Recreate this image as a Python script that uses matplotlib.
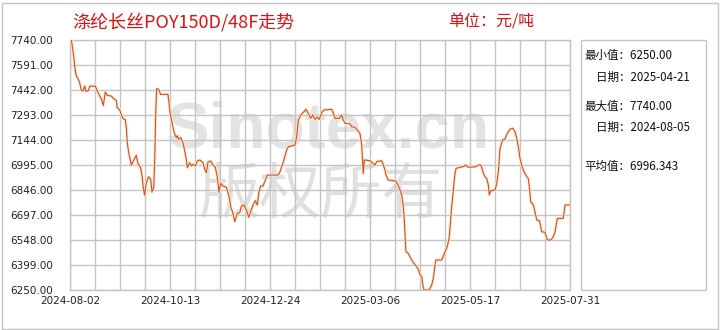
import numpy as np
import pandas as pd
import matplotlib
matplotlib.use("Agg")
import matplotlib.pyplot as plt
import matplotlib.patheffects as pe
from matplotlib.patches import Rectangle

plt.rcParams['font.family'] = ['Noto Sans CJK SC', 'DejaVu Sans']

start = pd.Timestamp('2024-08-02')
end = pd.Timestamp('2025-07-31')

# day offsets from 2024-08-02 and price (yuan/ton)
days = [1.0, 2.7, 3.4, 4.1, 4.9, 5.8, 7.0, 8.2, 9.4, 10.7, 11.4, 13.1, 14.5, 18.4, 19.8,
        21.6, 22.7, 24.2, 25.6, 27.1, 30.0, 31.7, 33.6, 34.3, 36.1, 37.2, 38.5, 40.1,
        40.9, 41.6, 42.6, 43.8, 44.5, 46.0, 48.1, 49.4, 51.3, 52.3, 53.2, 54.2, 55.4,
        57.1, 58.6, 59.5, 60.8, 61.5, 62.2, 62.9, 64.4, 65.8, 71.1, 71.9, 72.8, 74.3,
        76.0, 77.2, 77.9, 78.9, 80.4, 82.0, 83.3, 84.4, 85.2, 86.9, 88.1, 89.3, 91.0,
        92.4, 94.2, 96.6, 97.8, 99.0, 100.2, 102.1, 103.8, 105.5, 106.9, 108.2, 109.4,
        111.1, 113.5, 115.2, 116.7, 118.3, 119.6, 121.5, 123.2, 124.4, 126.3, 128.0,
        129.7, 131.2, 132.9, 134.5, 136.0, 137.0, 138.4, 140.1, 141.4, 143.2, 151.0,
        152.5, 154.9, 157.3, 158.5, 163.4, 164.6, 165.8, 167.5, 169.9, 171.3, 173.0,
        174.7, 176.2, 177.9, 179.5, 181.0, 182.7, 184.4, 190.0, 191.2, 192.4, 195.5,
        197.2, 198.4, 199.7, 203.3, 204.5, 206.9, 210.5, 211.8, 212.5, 212.9, 213.7,
        217.8, 219.8, 221.4, 222.7, 226.3, 227.5, 228.7, 229.4, 231.1, 235.9, 237.6,
        239.6, 240.8, 242.0, 242.7, 243.9, 245.6, 246.8, 248.8, 251.2, 252.9, 254.1,
        255.4, 256.1, 257.0, 260.9, 262.6, 263.8, 265.0, 265.7, 269.9, 272.3, 273.9,
        275.4, 277.1, 278.3, 279.5, 280.3, 283.1, 285.5, 287.3, 288.4, 290.4, 294.8,
        296.4, 298.2, 299.1, 300.1, 301.3, 302.5, 303.7, 304.4, 305.4, 308.6, 309.8,
        311.0, 312.2, 314.1, 315.8, 317.5, 319.4, 321.4, 323.1, 324.3, 325.5, 326.7,
        327.9, 329.6, 331.6, 332.7, 333.5, 334.5, 336.4, 338.9, 340.8, 342.5, 344.9,
        346.1, 346.6, 349.2, 350.9, 352.1, 353.8, 358.1, 359.4, 363.0]
prices = [7740, 7645, 7585, 7545, 7520, 7510, 7485, 7440, 7436, 7465, 7436, 7436, 7465, 7465, 7436,
          7406, 7390, 7350, 7430, 7410, 7406, 7390, 7380, 7337, 7323, 7297, 7271, 7267,
          7217, 7128, 7068, 7025, 6993, 7019, 7053, 7003, 6979, 6930, 6860, 6814, 6890,
          6925, 6910, 6834, 6860, 7029, 7297, 7450, 7446, 7416, 7416, 7366, 7297, 7237,
          7178, 7158, 7170, 7148, 7158, 7128, 7078, 7029, 6979, 7009, 6989, 6999, 6989,
          7019, 7025, 7009, 6969, 6949, 7013, 7019, 6995, 6981, 6925, 6832, 6886,
          6870, 6862, 6816, 6747, 6707, 6657, 6707, 6710, 6750, 6757, 6727,
          6683, 6717, 6757, 6782, 6757, 6826, 6870, 6870, 6895, 6935, 6935,
          6955, 7015, 7084, 7104, 7114, 7168, 7263, 7293, 7313, 7327, 7303,
          7273, 7293, 7267, 7280, 7267, 7307, 7323, 7327, 7303, 7273, 7273,
          7293, 7263, 7243, 7240, 7223, 7220, 7184, 7114, 7005, 6945, 7025,
          7021, 7005, 6995, 7015, 7021, 6995, 6965, 6935, 6905, 6901, 6886,
          6846, 6816, 6747, 6667, 6478, 6468, 6448, 6419, 6393, 6373, 6340,
          6330, 6280, 6250, 6250, 6280, 6320, 6399, 6429, 6429, 6478, 6508,
          6568, 6747, 6846, 6945, 6975, 6981, 6985, 6995, 6985, 6981, 6985,
          6995, 6995, 6975, 6945, 6925, 6915, 6876, 6816, 6842, 6846, 6886,
          6955, 7094, 7144, 7150, 7184, 7208, 7214, 7194, 7154, 7104, 7035,
          6995, 6955, 6925, 6915, 6866, 6776, 6757, 6667, 6663, 6597, 6594,
          6558, 6548, 6548, 6568, 6597, 6677, 6677, 6757, 6757]

x_labels = ['2024-08-02', '2024-10-13', '2024-12-24', '2025-03-06', '2025-05-17', '2025-07-31']
y_min, y_max = 6250, 7740

title = '涤纶长丝POY150D/48F走势'
unit = '单位：元/吨'
stats = [('最小值：6250.00', 0), ('日期：2025-04-21', 1), ('最大值：7740.00', 0),
         ('日期：2024-08-05', 1), ('平均值：6996.343', 0)]

dates = start + pd.to_timedelta(days, unit='D')

fig = plt.figure(figsize=(7.2, 3.3), dpi=100)
W, H = 720, 330
ax = fig.add_axes([70 / W, 1 - 290 / H, 500 / W, 250 / H])

grid_c = '#c4c4c4'
x0 = matplotlib.dates.date2num(start)
x1 = matplotlib.dates.date2num(end)
ax.set_xlim(x0, x1)
ax.set_ylim(y_min, y_max)

xgrid = np.linspace(x0, x1, 21)
ax.set_xticks(xgrid[::4])
ax.set_xticklabels(x_labels, family='DejaVu Sans')
ax.set_xticks(xgrid, minor=True)
yt = np.linspace(y_min, y_max, 11)
ax.set_yticks(yt)
ax.set_yticklabels([f'{v:.2f}' for v in yt], family='DejaVu Sans')
ax.tick_params(axis='both', which='both', length=0, labelsize=7.5, colors='#222222')
ax.tick_params(axis='y', pad=12)
ax.tick_params(axis='x', pad=4)
ax.grid(True, which='both', color=grid_c, linewidth=1.0)
for s in ax.spines.values():
    s.set_color(grid_c)
    s.set_linewidth(1.0)

# watermark
ax.text(0.515, 0.64, 'Sinotex.cn', transform=ax.transAxes, ha='center', va='center',
        fontsize=46, fontweight='bold', family='Liberation Sans', color='#e3e3e3', zorder=1)
ax.text(0.50, 0.38, '版权所有', transform=ax.transAxes, ha='center', va='center',
        fontsize=44, color='#e0e0e0', zorder=1)

ax.plot(dates, prices, color='#d4501c', linewidth=0.8, zorder=3,
        path_effects=[pe.Stroke(linewidth=2.0, foreground='#fce6d2'), pe.Normal()])

fig.text(72 / W, 1 - 22 / H, title, color='#e01010', fontsize=13, va='center', ha='left')
fig.text(448 / W, 1 - 22 / H, unit, color='#e01010', fontsize=11.5, va='center', ha='left')

# stats box
fig.patches.append(Rectangle((581 / W, 1 - 290 / H), 125 / W, 250 / H, transform=fig.transFigure,
                             fill=False, edgecolor=grid_c, linewidth=1.0))
ys = [55, 77, 106, 127, 166]
for (txt, indent), yy in zip(stats, ys):
    fig.text((584 + indent * 12) / W, 1 - yy / H, txt, fontsize=8.3, va='center', ha='left',
             color='#111111')

# outer frame
fig.patches.append(Rectangle((1.5 / W, 1.5 / H), 716 / W, 326 / H, transform=fig.transFigure,
                             fill=False, edgecolor=grid_c, linewidth=1.0))

fig.savefig('out.png', dpi=100)
